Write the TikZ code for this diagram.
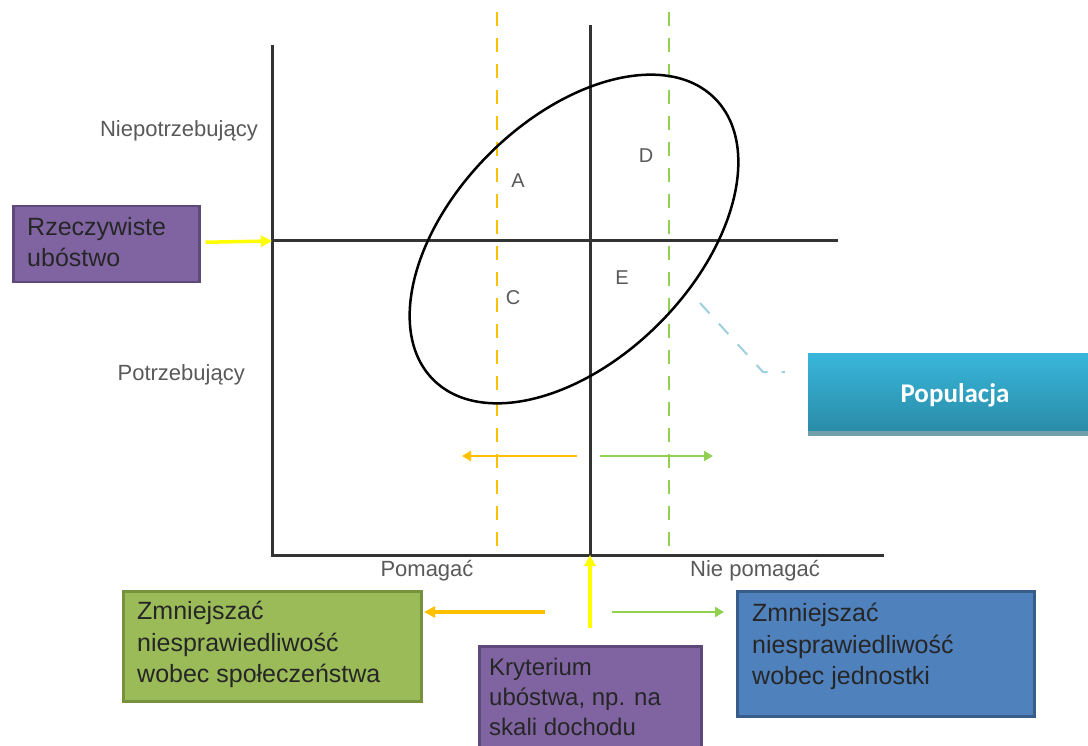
\documentclass[tikz,border=0pt]{standalone}
\usepackage{fontspec}
\setmainfont{Liberation Sans}
\newfontfamily\popfont{Carlito}
\usetikzlibrary{arrows.meta}
\definecolor{axisc}{HTML}{333333}
\definecolor{lblc}{HTML}{595959}
\definecolor{txtc}{HTML}{262626}
\definecolor{purp}{HTML}{8064A2}
\definecolor{purpd}{HTML}{5E4A7A}
\definecolor{grn}{HTML}{9BBB59}
\definecolor{grnd}{HTML}{76923C}
\definecolor{blu}{HTML}{4F81BD}
\definecolor{blud}{HTML}{385D8A}
\definecolor{cyt}{HTML}{38B6DA}
\definecolor{cyb}{HTML}{2A8CA8}
\definecolor{cyl}{HTML}{9DD0DF}
\definecolor{ylw}{HTML}{FFFF00}
\definecolor{orng}{HTML}{FFC000}
\definecolor{lgrn}{HTML}{92D050}
\tikzset{
  axisline/.style={draw=axisc, line width=3pt},
  dashy/.style={draw=#1, line width=2.5pt, dash pattern=on 14pt off 12pt},
  lbl/.style={text=lblc, font=\fontsize{22}{26}\selectfont, inner sep=0pt},
  qlbl/.style={text=lblc, font=\fontsize{20}{24}\selectfont, inner sep=0pt},
  boxr/.style={draw=#1, line width=2.5pt, inner sep=0pt},
  boxtxt/.style={text=txtc, font=\fontsize{25}{31.5}\selectfont, align=left, inner sep=0pt, anchor=north west},
  arr/.style={draw=#1, line width=3.5pt, -{Triangle[length=11pt,width=11pt]}},
  arrthin/.style={draw=#1, line width=2.5pt, -{Triangle[length=9pt,width=10pt]}},
}
\begin{document}
\begin{tikzpicture}[x=1pt,y=-1pt]
\useasboundingbox (0,0) rectangle (1088,746);
% axes
\coordinate (Ytop) at (272,45);
\coordinate (O) at (272,555);
\coordinate (Xend) at (884,555);
\coordinate (Mtop) at (590,25);
\coordinate (Mbot) at (590,555);
\coordinate (Hl) at (272,241);
\coordinate (Hr) at (838,241);
\coordinate (Yd1) at (497,12);
\coordinate (Yd2) at (497,548);
\coordinate (Gd1) at (669,12);
\coordinate (Gd2) at (669,548);
\draw[dashy=orng] (Yd1) -- (Yd2);
\draw[dashy=lgrn] (Gd1) -- (Gd2);
\draw[axisline] (Ytop) -- (O) -- (Xend);
\draw[axisline] (Mtop) -- (Mbot);
\draw[axisline] (Hl) -- (Hr);
% ellipse
\coordinate (C) at (574,239);
\draw[line width=2.5pt, black, rotate around={45:(C)}] (C) ellipse [x radius=199pt, y radius=120pt];
% quadrant letters
\node[qlbl] (qA) at (518,181) {A};
\node[qlbl] (qD) at (646,156) {D};
\node[qlbl] (qC) at (513,298) {C};
\node[qlbl] (qE) at (622,278) {E};
% axis labels
\node[lbl, anchor=east] (np) at (258,131) {Niepotrzebujący};
\node[lbl, anchor=east] (p) at (245,375) {Potrzebujący};
\node[lbl] (pom) at (427,571) {Pomagać};
\node[lbl] (npom) at (755,571) {Nie pomagać};
% inner arrows
\coordinate (ia1) at (577,456);
\coordinate (ia2) at (462,456);
\coordinate (ib1) at (600,456);
\coordinate (ib2) at (713,456);
\draw[arrthin=orng] (ia1) -- (ia2);
\draw[arrthin=lgrn] (ib1) -- (ib2);
% Rzeczywiste ubostwo box
\node[boxr=purpd, fill=purp, minimum width=186pt, minimum height=76pt, anchor=north west] (rz) at (12,205) {};
\node[boxtxt] (rzt) at (27,217) {Rzeczywiste\\ubóstwo};
\draw[arr=ylw] (rz.east) ++(5,-2) coordinate (rzs) -- (Hl);
% Populacja box
\shade[top color=cyt, bottom color=cyb] (808,354) rectangle (1092,431);
\fill[cyb!60!gray!80] (808,431) rectangle (1092,436);
\node[inner sep=0pt, minimum width=284pt, minimum height=77pt, anchor=north west] (pop) at (808,354) {};
\node[text=white, font=\popfont\bfseries\fontsize{27}{30}\selectfont, inner sep=0pt] (popt) at (955,395) {Populacja};
\coordinate (cal1) at (700,303);
\coordinate (cal2) at (763,372);
\coordinate (cal3) at (785,372);
\draw[cyl, line width=2pt, dash pattern=on 14pt off 14pt] (cal1) -- (cal2) -- (cal3);
% green box
\node[boxr=grnd, fill=grn, minimum width=298pt, minimum height=110pt, anchor=north west] (gb) at (122,590) {};
\node[boxtxt] (gbt) at (137,601) {Zmniejszać\\niesprawiedliwość\\wobec społeczeństwa};
% blue box
\node[boxr=blud, fill=blu, minimum width=297pt, minimum height=125pt, anchor=north west] (bb) at (736,590) {};
\node[boxtxt] (bbt) at (752,603) {Zmniejszać\\niesprawiedliwość\\wobec jednostki};
% purple criterion box
\node[boxr=purpd, fill=purp, minimum width=222pt, minimum height=115pt, anchor=north west] (kb) at (478,645) {};
\node[boxtxt, font=\fontsize{24}{30}\selectfont] (kbt) at (489,658) {Kryterium\\ubóstwa, np. na\\skali dochodu};
% bottom arrows
\coordinate (va1) at (590,628);
\draw[arr=ylw] (va1) -- (Mbot);
\coordinate (la1) at (545,612);
\coordinate (la2) at (424,612);
\draw[arr=orng] (la1) -- (la2);
\coordinate (ra1) at (612,612);
\coordinate (ra2) at (724,612);
\draw[arrthin=lgrn] (ra1) -- (ra2);
\end{tikzpicture}
\end{document}
